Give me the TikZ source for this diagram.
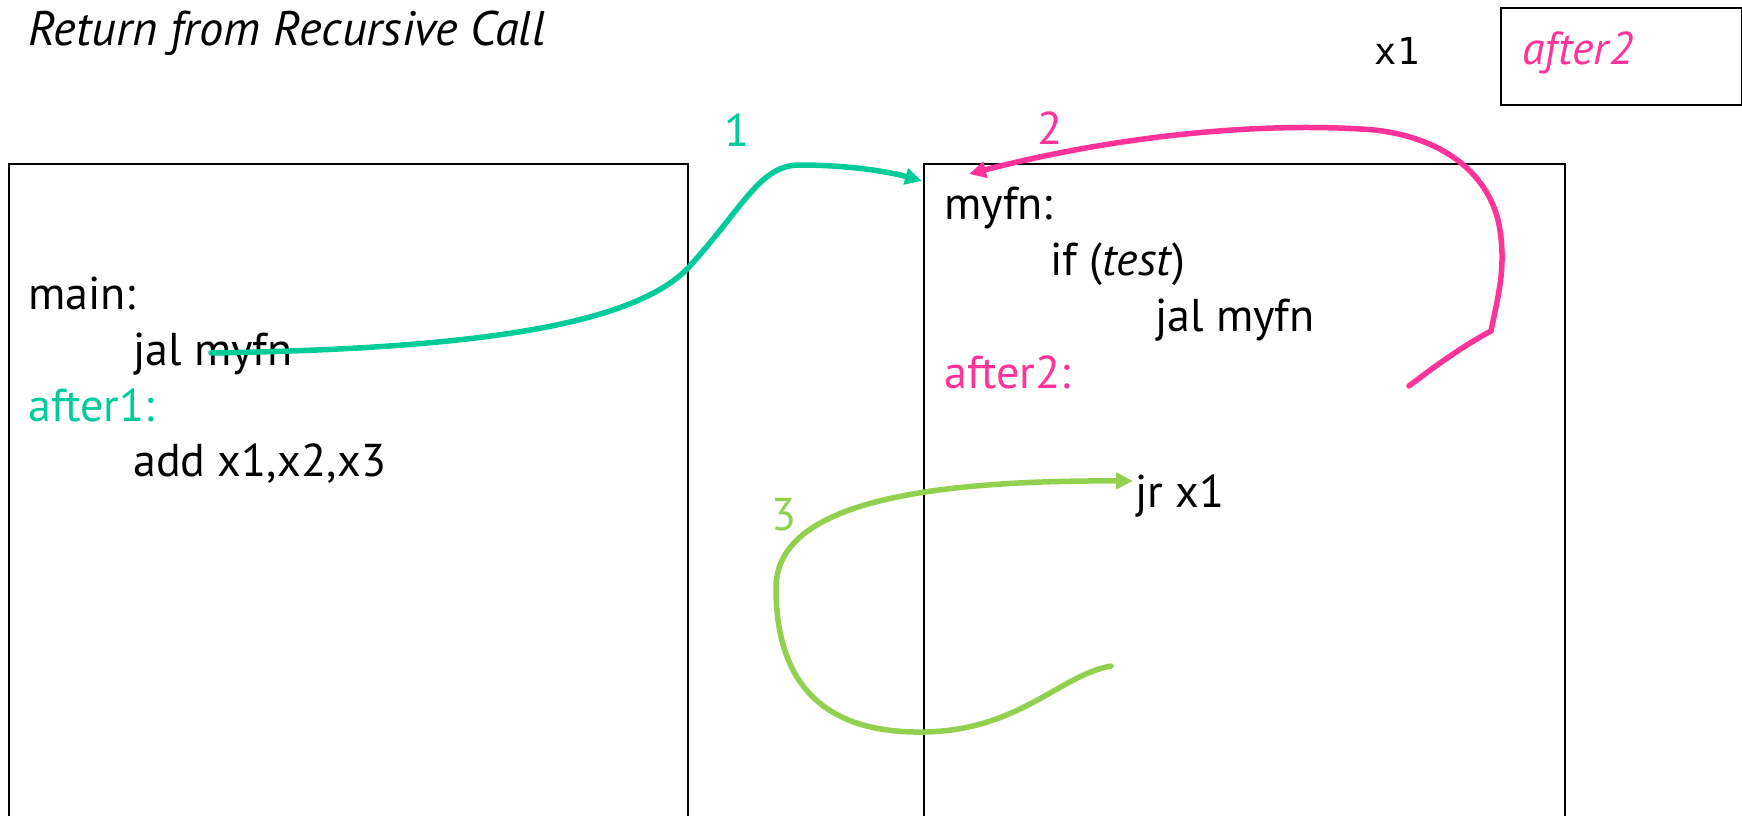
\documentclass[tikz,border=0pt]{standalone}
\usepackage{fontspec}
\setmainfont{PT Sans}
\newfontfamily\monofont{DejaVu Sans Mono}
\usetikzlibrary{arrows.meta}
\definecolor{tealc}{RGB}{0,204,153}
\definecolor{pinkc}{RGB}{255,51,153}
\definecolor{greenc}{RGB}{146,208,80}
\begin{document}
\begin{tikzpicture}[x=1pt,y=-1pt,
  txt/.style={anchor=base west, inner sep=0pt, font=\fontsize{46}{50}\selectfont},
  lbl/.style={anchor=base, inner sep=0pt, font=\fontsize{46}{50}\selectfont},
  frame/.style={draw=black, line width=1.6pt},
  flow/.style={line width=5.5pt, line cap=round},
  tip/.style={-{Triangle[length=17pt,width=16pt]}}]
\useasboundingbox (0,0) rectangle (1742,816);
\clip (0,0) rectangle (1742,816);
\fill[white] (0,0) rectangle (1742,816);
% frames
\draw[frame] (9,850) -- (9,164) -- (688,164) -- (688,850);
\draw[frame] (924,850) -- (924,164) -- (1565,164) -- (1565,850);
\node[frame, anchor=north west, minimum width=241pt, minimum height=97pt, inner sep=0pt] (reg) at (1500,7) {};
% texts
\node[txt, font=\fontsize{48.5}{52}\selectfont] (title) at (28,46) {\itshape Return from Recursive Call};
\node[anchor=base, inner sep=0pt, font=\monofont\fontsize{37}{42}\selectfont] (x1) at (1397,64) {x1};
\node[txt, text=pinkc] (regval) at (1522,64) {\itshape after2};
\node[txt] (main) at (28,309) {main:};
\node[txt] (jal1) at (133,365) {jal myfn};
\node[txt, text=tealc] (after1) at (28,421) {after1:};
\node[txt] (add) at (133,476) {add x1,x2,x3};
\node[txt] (myfn) at (944,219) {myfn:};
\node[txt] (iftest) at (1050,275) {if (\textit{test})};
\node[txt] (jal2) at (1155,331) {jal myfn};
\node[txt, text=pinkc] (after2) at (944,388) {after2:};
\node[txt] (jr) at (1135,507) {jr x1};
\node[lbl, text=tealc] (n1) at (737,146) {1};
\node[lbl, text=pinkc] (n2) at (1050,144) {2};
\node[lbl, text=greenc] (n3) at (784,530) {3};
% connector end points
\coordinate (t0) at (211,353);
\coordinate (t1) at (922,181);
\coordinate (p0) at (1409,386);
\coordinate (p1) at (969,174);
\coordinate (g0) at (1111,666);
\coordinate (g1) at (1133,481);
% arrows
\draw[flow, tealc, tip] (t0) .. controls (450,349) and (630,330) .. (689,267)
  .. controls (745,205) and (760,165) .. (800,165)
  .. controls (850,165) and (890,172) .. (t1);
\draw[flow, pinkc, tip] (p0) .. controls (1440,362) and (1470,342) .. (1491,331)
  .. controls (1497,300) and (1508,265) .. (1498,220)
  .. controls (1484,165) and (1430,132) .. (1360,129)
  .. controls (1240,122) and (1100,140) .. (p1);
\draw[flow, greenc, tip] (g0) .. controls (1060,675) and (1020,730) .. (925,732)
  .. controls (820,734) and (776,680) .. (776,588)
  .. controls (776,510) and (900,480) .. (g1);
\end{tikzpicture}
\end{document}
